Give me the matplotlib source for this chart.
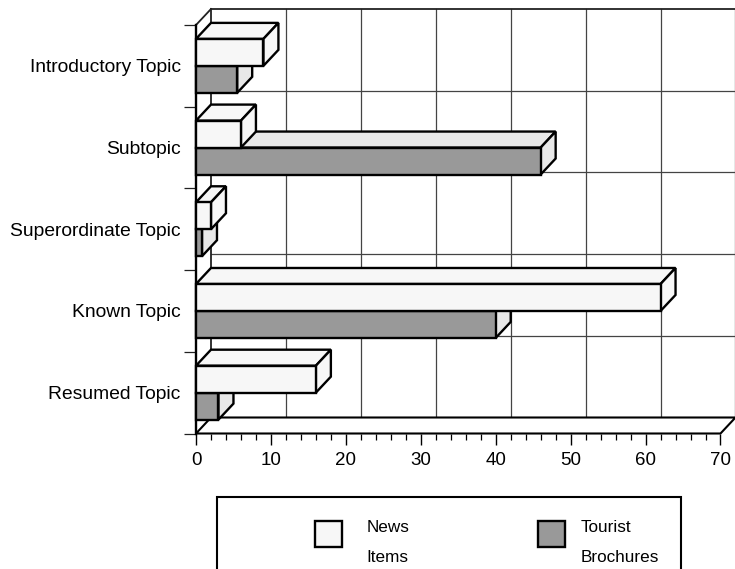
import matplotlib
matplotlib.use("Agg")
import matplotlib.pyplot as plt
from matplotlib.patches import Polygon, Rectangle

categories = ["Introductory Topic", "Subtopic", "Superordinate Topic", "Known Topic", "Resumed Topic"]
news_items = [9, 6, 2, 62, 16]
tourist_brochures = [5.5, 46, 0.8, 40, 3]
x_ticks = [0, 10, 20, 30, 40, 50, 60, 70]
x_minor = [v for v in range(0, 71, 2)]

W, H = 735, 569
DX = 2.0      # depth of the fake 3d, in x units
DY = 16 / 81.7  # depth in category units
BAR_H = 0.33

plt.rcParams["font.family"] = ["Liberation Sans", "DejaVu Sans"]

fig = plt.figure(figsize=(W / 100, H / 100), dpi=100)
ax = fig.add_axes([196 / W, 1 - 433.5 / H, 524.5 / W, 408.5 / H])
ax.set_xlim(0, 70)
ax.set_ylim(0, 5)
for s in ax.spines.values():
    s.set_visible(False)
ax.patch.set_visible(False)

grid_col = "#444444"
edge = "black"


def line(xs, ys, lw=1.0, color=grid_col, z=1):
    ax.plot(xs, ys, color=color, lw=lw, solid_capstyle="projecting", clip_on=False, zorder=z)


def box(x, y0, y1, front, side, z):
    # side + top faces first, front last
    top = [(0, y1), (x, y1), (x + DX, y1 + DY), (DX, y1 + DY)]
    right = [(x, y0), (x + DX, y0 + DY), (x + DX, y1 + DY), (x, y1)]
    for pts, col in ((top, side), (right, side)):
        ax.add_patch(Polygon(pts, closed=True, fc=col, ec=edge, lw=1.7, clip_on=False, zorder=z, joinstyle="miter"))
    ax.add_patch(Rectangle((0, y0), x, y1 - y0, fc=front, ec=edge, lw=1.7, clip_on=False, zorder=z, joinstyle="miter"))


# back wall
for v in x_ticks[1:]:
    line([v + DX, v + DX], [DY, 5 + DY], lw=0.9)
for i in range(1, 5):
    line([DX, 70 + DX], [i + DY, i + DY], lw=0.9)
line([DX, 70 + DX], [5 + DY, 5 + DY], lw=1.3, color="#222222")
line([DX, DX], [DY, 5 + DY], lw=1.3, color="#222222")

# floor and left side
ax.add_patch(Polygon([(0, 0), (70, 0), (70 + DX, DY), (DX, DY)], closed=True, fc="white", ec=edge,
                     lw=1.5, clip_on=False, zorder=2, joinstyle="miter"))
line([0, DX], [5, 5 + DY], lw=1.3, color="#222222", z=2)
line([0, 0], [0, 5], lw=1.7, color=edge, z=2)

# bars, back to front
for i, cat in enumerate(categories):
    c = 4.5 - i
    z = 3 + i * 2
    box(tourist_brochures[i], c - BAR_H, c, "#999999", "#e8e8e8", z)
    box(news_items[i], c, c + BAR_H, "#f7f7f7", "#f7f7f7", z + 1)

# ticks
ax.set_xticks(x_ticks)
ax.set_xticks(x_minor, minor=True)
ax.set_yticks(range(6))
ax.set_yticklabels([])
ax.set_yticks([4.5 - i for i in range(5)], labels=categories, minor=True)
ax.tick_params(axis="x", which="major", length=8, width=1.0, labelsize=13.5, pad=5)
ax.tick_params(axis="x", which="minor", length=4, width=0.9)
ax.tick_params(axis="y", which="major", length=8.5, width=0.9, color="#222222")
ax.tick_params(axis="y", which="minor", length=0, labelsize=13.85, pad=11)

# legend box, its bottom edge runs off the picture
fig.add_artist(Rectangle((217 / W, -0.02), 464 / W, 1 - 497 / H + 0.02, transform=fig.transFigure,
                         fc="white", ec=edge, lw=1.5))
for px, col in ((315, "#f7f7f7"), (538, "#999999")):
    fig.add_artist(Rectangle((px / W, 1 - 547 / H), 27 / W, 26 / H, transform=fig.transFigure,
                             fc=col, ec=edge, lw=1.7))
for px, top_txt, bot_txt in ((366.5, "News", "Items"), (581, "Tourist", "Brochures")):
    fig.text(px / W, 1 - 527 / H, top_txt, fontsize=12.3, va="center", ha="left")
    fig.text(px / W, 1 - 557 / H, bot_txt, fontsize=12.3, va="center", ha="left")

fig.savefig("out.png", dpi=100)
